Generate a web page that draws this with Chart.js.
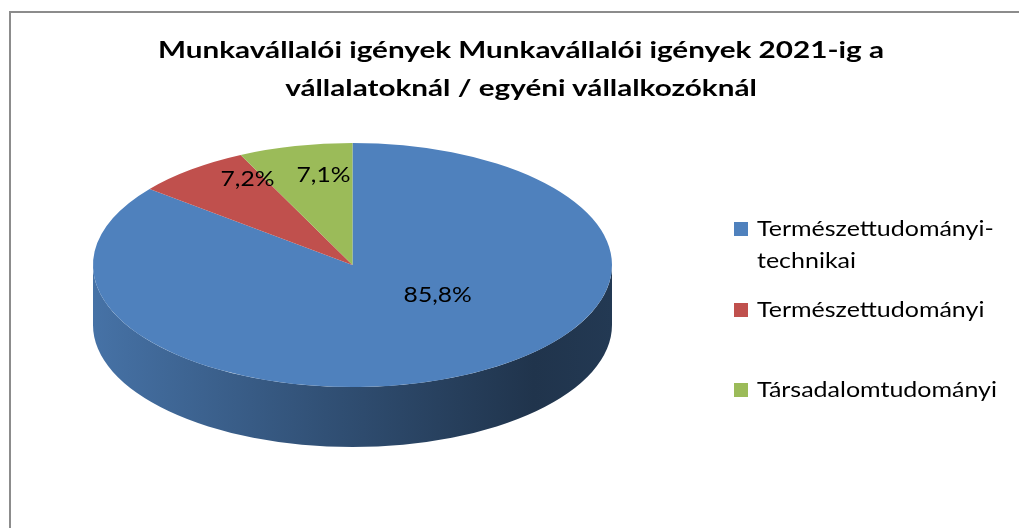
<!DOCTYPE html>
<html>
<head>
<meta charset="utf-8">
<script src="https://cdn.jsdelivr.net/npm/chart.js@4.4.0/dist/chart.umd.min.js"></script>
<style>
  body { margin: 0; background: #fff; }
  #wrap { position: relative; width: 1019px; height: 528px; overflow: hidden; font-family: Lato, "Open Sans", sans-serif; color: #000; }
  #frame { position: absolute; left: 9px; top: 11px; width: 1100px; height: 600px; border: 2px solid #8c8c8c; box-sizing: border-box; }
  #myChart { position: absolute; left: 0; top: 0; }
  #title { position: absolute; left: 10px; width: 1022px; top: 30px; text-align: center; font-weight: bold; font-size: 23px; line-height: 38px; transform: scaleX(1.29); transform-origin: 511px 0; }
  .legend-item { position: absolute; left: 734px; width: 280px; font-size: 21px; line-height: 32px; }
  .legend-item .box { position: absolute; left: 0; top: 10px; width: 14px; height: 14px; }
  .legend-item .txt { margin-left: 23px; width: 215px; transform: scaleX(1.19); transform-origin: 0 0; }
</style>
</head>
<body>
<div id="wrap">
  <div id="frame"></div>
  <canvas id="myChart" width="1019" height="528"></canvas>
  <div id="title">Munkavállalói igények Munkavállalói igények 2021-ig a<br>vállalatoknál / egyéni vállalkozóknál</div>
  <div id="legend"></div>
</div>
<script>
const categories = ["Természettudományi-technikai", "Természettudományi", "Társadalomtudományi"];
const shares = [85.8, 7.2, 7.1];
const sliceColors = ["#4F81BD", "#C0504D", "#9BBB59"];

// where the flat pie is laid on the page as a tilted disc
const disc = { x: 352.5, y: 265, rx: 259.5, ry: 122, depth: 60 };
// label spot per slice: fraction of radius, turn from mid angle (deg)
const labelSpots = [
  { frac: 0.41, turn: -27.5 },
  { frac: 0.81, turn: 8.5 },
  { frac: 0.75, turn: 4.2 },
];
const legendTops = [212, 293, 373];

function shade(hex, f) {
  const n = parseInt(hex.slice(1), 16);
  const r = Math.round(((n >> 16) & 255) * f);
  const g = Math.round(((n >> 8) & 255) * f);
  const b = Math.round((n & 255) * f);
  return `rgb(${r},${g},${b})`;
}

const pie3d = {
  id: "pie3d",
  beforeDatasetsDraw(chart) {
    const ctx = chart.ctx;
    const arcs = chart.getDatasetMeta(0).data;
    const cx = arcs[0].x, cy = arcs[0].y, r = arcs[0].outerRadius;
    ctx.save();
    ctx.translate(disc.x, disc.y);
    ctx.scale(disc.rx / r, disc.ry / r);
    ctx.translate(-cx, -cy);
    const d = disc.depth * r / disc.ry;
    arcs.forEach((arc, i) => {
      const color = chart.data.datasets[0].backgroundColor[i];
      const grad = ctx.createLinearGradient(cx - r, 0, cx + r, 0);
      grad.addColorStop(0, shade(color, 0.88));
      grad.addColorStop(0.45, shade(color, 0.62));
      grad.addColorStop(0.85, shade(color, 0.4));
      grad.addColorStop(1, shade(color, 0.44));
      [[0, Math.PI], [2 * Math.PI, 3 * Math.PI]].forEach(([lo, hi]) => {
        const a0 = Math.max(arc.startAngle, lo);
        const a1 = Math.min(arc.endAngle, hi);
        if (a1 <= a0) return;
        ctx.beginPath();
        ctx.arc(cx, cy + d, r, a0, a1);
        ctx.arc(cx, cy, r, a1, a0, true);
        ctx.closePath();
        ctx.fillStyle = grad;
        ctx.fill();
      });
    });
  },
  afterDatasetsDraw(chart) {
    const ctx = chart.ctx;
    ctx.restore();
    const arcs = chart.getDatasetMeta(0).data;
    arcs.forEach((arc, i) => {
      const spot = labelSpots[i];
      const mid = (arc.startAngle + arc.endAngle) / 2 + spot.turn * Math.PI / 180;
      const x = disc.x + disc.rx * spot.frac * Math.cos(mid);
      const y = disc.y + disc.ry * spot.frac * Math.sin(mid);
      const txt = shares[i].toFixed(1).replace(".", ",") + "%";
      ctx.save();
      ctx.font = "22px Lato, 'Open Sans', sans-serif";
      ctx.fillStyle = "#000";
      ctx.textAlign = "center";
      ctx.textBaseline = "middle";
      ctx.translate(x, y);
      ctx.scale(1.12, 1);
      ctx.fillText(txt, 0, 0);
      ctx.restore();
    });
  },
};

const config = {
  type: "pie",
  data: {
    labels: categories,
    datasets: [{
      data: shares,
      backgroundColor: sliceColors,
      borderWidth: 0,
      hoverOffset: 0,
      clip: false,
    }],
  },
  options: {
    responsive: false,
    animation: false,
    layout: {
      padding: { left: 93, right: 407, top: 5, bottom: 4 },
    },
    plugins: {
      legend: { display: false },
      tooltip: { enabled: false },
    },
    events: [],
  },
  plugins: [pie3d],
};

const myChart = new Chart(document.getElementById("myChart"), config);

const legendEl = document.getElementById("legend");
categories.forEach((name, i) => {
  const item = document.createElement("div");
  item.className = "legend-item";
  item.style.top = legendTops[i] + "px";
  item.innerHTML = `<div class="box" style="background:${sliceColors[i]}"></div><div class="txt">${name}</div>`;
  legendEl.appendChild(item);
});
</script>
</body>
</html>
